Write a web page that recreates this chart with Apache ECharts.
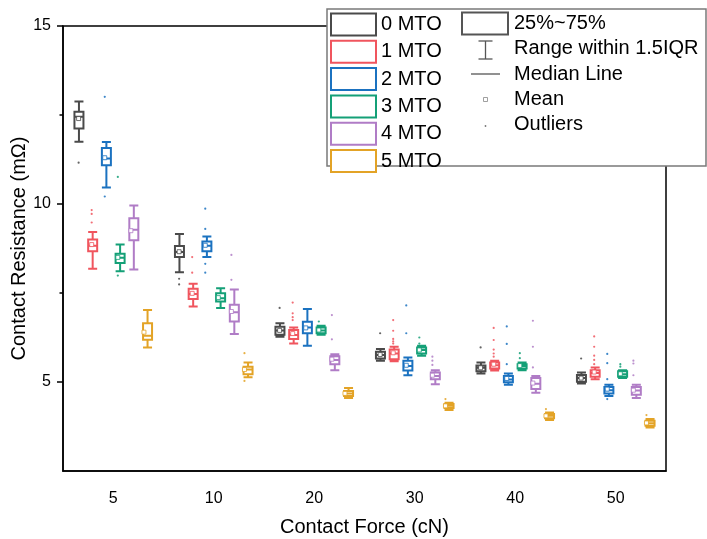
<!DOCTYPE html>
<html><head><meta charset="utf-8">
<script src="https://cdn.jsdelivr.net/npm/echarts@6/dist/echarts.min.js"></script>
<style>html,body{margin:0;padding:0;background:#fff}#c{width:707px;height:539px}</style>
</head><body><div id="c"></div>
<script>
const FONT = 'Liberation Sans, Arial, sans-serif';
const categories = ['5', '10', '20', '30', '40', '50'];
const seriesNames = ['0 MTO', '1 MTO', '2 MTO', '3 MTO', '4 MTO', '5 MTO'];
const colors = ['#4a4a4a', '#F0555E', '#1B72C0', '#14A077', '#B07CC6', '#E3A326'];

// [min, Q1, median, Q3, max] for each contact force
const box0 = [[11.75, 12.12, 12.45, 12.59, 12.88], [8.08, 8.51, 8.65, 8.82, 9.16], [6.27, 6.33, 6.45, 6.55, 6.65], [5.60, 5.66, 5.76, 5.85, 5.93], [5.24, 5.30, 5.40, 5.46, 5.55], [4.96, 5.01, 5.11, 5.20, 5.27]];
const box1 = [[8.18, 8.67, 8.83, 9.00, 9.21], [7.12, 7.33, 7.47, 7.62, 7.76], [6.08, 6.21, 6.32, 6.46, 6.53], [5.58, 5.64, 5.80, 5.91, 5.99], [5.32, 5.38, 5.47, 5.55, 5.60], [5.08, 5.15, 5.25, 5.33, 5.41]];
const box2 = [[10.46, 11.09, 11.28, 11.57, 11.74], [8.51, 8.67, 8.83, 8.95, 9.09], [6.02, 6.37, 6.53, 6.69, 7.05], [5.19, 5.32, 5.45, 5.60, 5.69], [4.92, 4.99, 5.07, 5.17, 5.24], [4.61, 4.68, 4.77, 4.86, 4.92]];
const box3 = [[8.11, 8.34, 8.49, 8.60, 8.86], [7.08, 7.26, 7.35, 7.49, 7.63], [6.33, 6.37, 6.45, 6.53, 6.58], [5.74, 5.80, 5.90, 5.97, 6.02], [5.33, 5.38, 5.45, 5.50, 5.55], [5.11, 5.15, 5.22, 5.30, 5.33]];
const box4 = [[8.16, 8.98, 9.28, 9.60, 9.96], [6.35, 6.70, 6.96, 7.17, 7.60], [5.33, 5.50, 5.62, 5.72, 5.78], [4.94, 5.08, 5.17, 5.27, 5.33], [4.70, 4.80, 4.95, 5.11, 5.17], [4.55, 4.64, 4.76, 4.86, 4.92]];
const box5 = [[5.97, 6.19, 6.30, 6.65, 7.02], [5.13, 5.22, 5.35, 5.43, 5.55], [4.55, 4.61, 4.68, 4.75, 4.83], [4.21, 4.27, 4.33, 4.38, 4.42], [3.93, 3.98, 4.05, 4.10, 4.14], [3.72, 3.77, 3.84, 3.91, 3.96]];

const mean0 = [12.40, 8.66, 6.45, 5.77, 5.40, 5.11];
const mean1 = [8.86, 7.49, 6.36, 5.82, 5.50, 5.28];
const mean2 = [11.30, 8.84, 6.52, 5.47, 5.10, 4.80];
const mean3 = [8.50, 7.37, 6.46, 5.90, 5.46, 5.23];
const mean4 = [9.25, 6.98, 5.64, 5.19, 4.97, 4.77];
const mean5 = [6.40, 5.35, 4.68, 4.33, 4.05, 3.85];

// outliers: [force index, value]
const out0 = [[0, 11.16], [1, 7.90], [1, 7.74], [2, 7.08], [3, 6.37], [4, 5.97], [5, 5.66]];
const out1 = [[0, 9.83], [0, 9.72], [0, 9.48], [1, 8.51], [1, 8.07], [2, 7.23], [2, 6.93], [2, 6.82], [2, 6.74], [3, 6.74], [3, 6.44], [3, 6.21], [3, 6.14], [3, 6.08], [4, 6.52], [4, 6.18], [4, 5.91], [4, 5.80], [4, 5.71], [5, 6.28], [5, 5.99], [5, 5.74], [5, 5.62], [5, 5.50]];
const out2 = [[0, 13.01], [0, 10.21], [1, 9.87], [1, 9.30], [1, 8.32], [1, 8.07], [3, 7.15], [3, 6.37], [4, 6.56], [4, 6.07], [4, 5.50], [5, 5.79], [5, 5.53], [5, 5.08], [5, 4.52]];
const out3 = [[0, 10.76], [0, 7.99], [2, 6.70], [3, 6.25], [3, 6.08], [4, 5.81], [4, 5.67], [5, 5.50], [5, 5.43]];
const out4 = [[1, 8.57], [1, 7.87], [2, 6.88], [2, 6.20], [3, 5.71], [3, 5.60], [3, 5.48], [4, 6.72], [4, 5.99], [4, 5.41], [5, 5.60], [5, 5.52], [5, 5.19]];
const out5 = [[1, 5.81], [1, 5.03], [3, 4.52], [4, 4.24], [5, 4.07]];

const yMin = 2.5, yMax = 15;
const yTicks = [5, 10, 15];
const yMinorTicks = [7.5, 12.5];

const boxes = [box0, box1, box2, box3, box4, box5];
const means = [mean0, mean1, mean2, mean3, mean4, mean5];
const outs = [out0, out1, out2, out3, out4, out5];
const N = seriesNames.length;

// replicate ECharts boxplot side-by-side layout offset
function offsetFor(s, band) {
  const avail = band * 0.8 - 2;
  const gap = avail / N * 0.3;
  const w = avail / N - gap;
  return w / 2 - avail / 2 + s * (gap + w);
}

const series = [];
for (let s = 0; s < N; s++) {
  series.push({
    name: seriesNames[s], type: 'boxplot', data: boxes[s], boxWidth: [9, 9],
    itemStyle: { color: '#fff', borderColor: colors[s], borderWidth: 2 },
    emphasis: { disabled: true }, z: 3
  });
}
for (let s = 0; s < N; s++) {
  series.push({
    name: seriesNames[s], type: 'custom', z: 4, silent: true,
    data: outs[s],
    renderItem: function (params, api) {
      const c = api.coord([api.value(0), api.value(1)]);
      const band = api.size([1, 0])[0];
      return { type: 'circle', shape: { cx: c[0] + offsetFor(s, band), cy: c[1], r: 1.1 },
               style: { fill: colors[s], opacity: 0.85 } };
    }
  });
  series.push({
    name: seriesNames[s], type: 'custom', z: 5, silent: true,
    data: means[s].map((v, i) => [i, v]),
    renderItem: function (params, api) {
      const c = api.coord([api.value(0), api.value(1)]);
      const band = api.size([1, 0])[0];
      const x = c[0] + offsetFor(s, band);
      return { type: 'rect', shape: { x: x - 2, y: c[1] - 2, width: 4, height: 4 },
               style: { fill: '#fff', stroke: colors[s], lineWidth: 0.8 } };
    }
  });
}

const keyX = 485.5, keyText = 514;
const rowY = [23.5, 48.8, 74.1, 99.4, 124.7];
const keyLabels = ['25%~75%', 'Range within 1.5IQR', 'Median Line', 'Mean', 'Outliers'];
const graphic = [
  { type: 'rect', z: 15, shape: { x: 327, y: 9, width: 379, height: 157 }, style: { fill: '#fff', stroke: '#7a7a7a', lineWidth: 1.5 } },
  { type: 'rect', z: 20, shape: { x: 462, y: 12.5, width: 46, height: 22 }, style: { fill: '#fff', stroke: '#555', lineWidth: 2 } },
  { type: 'line', z: 20, shape: { x1: keyX, y1: 41, x2: keyX, y2: 59 }, style: { stroke: '#555', lineWidth: 1.3 } },
  { type: 'line', z: 20, shape: { x1: 478.5, y1: 41, x2: 492.5, y2: 41 }, style: { stroke: '#555', lineWidth: 1.3 } },
  { type: 'line', z: 20, shape: { x1: 478.5, y1: 59, x2: 492.5, y2: 59 }, style: { stroke: '#555', lineWidth: 1.3 } },
  { type: 'line', z: 20, shape: { x1: 471, y1: 74, x2: 500, y2: 74 }, style: { stroke: '#555', lineWidth: 1.3 } },
  { type: 'rect', z: 20, shape: { x: keyX - 2, y: 97.5, width: 4, height: 4 }, style: { fill: '#fff', stroke: '#888', lineWidth: 0.8 } },
  { type: 'circle', z: 20, shape: { cx: keyX, cy: 126, r: 0.9 }, style: { fill: '#777' } }
];
keyLabels.forEach((t, i) => graphic.push({
  type: 'text', z: 20, x: keyText, y: rowY[i],
  style: { text: t, fill: '#000', font: '20px ' + FONT, verticalAlign: 'middle', align: 'left' }
}));

const chart = echarts.init(document.getElementById('c'), null, { renderer: 'canvas' });
chart.setOption({
  animation: false,
  backgroundColor: '#fff',
  textStyle: { fontFamily: FONT },
  grid: { left: 63, right: 41, top: 26, bottom: 68, outerBoundsMode: 'none', containLabel: false, show: true, borderColor: '#000', borderWidth: 1.5, backgroundColor: 'transparent' },
  legend: {
    orient: 'vertical', left: 330, top: 12.5, padding: 0,
    itemWidth: 45, itemHeight: 22, itemGap: 3.3, selectedMode: false, z: 20,
    textStyle: { fontSize: 20, color: '#000', fontFamily: FONT },
    data: seriesNames.map((n, i) => ({ name: n, icon: 'rect', itemStyle: { color: '#fff', borderColor: colors[i], borderWidth: 2 } }))
  },
  xAxis: {
    type: 'category', data: categories, boundaryGap: true,
    name: 'Contact Force (cN)', nameLocation: 'middle', nameGap: 46, nameMoveOverlap: false,
    nameTextStyle: { fontSize: 20, color: '#000', fontFamily: FONT },
    axisLine: { lineStyle: { color: '#000', width: 1.5 } },
    axisTick: { alignWithLabel: true, length: 6, lineStyle: { color: '#000', width: 1.5 } },
    axisLabel: { fontSize: 16, color: '#000', margin: 20, fontFamily: FONT },
    splitLine: { show: false }
  },
  yAxis: [{
    type: 'value', min: yMin, max: yMax, position: 'left',
    name: 'Contact Resistance (mΩ)', nameLocation: 'middle', nameGap: 34, nameMoveOverlap: false,
    nameTextStyle: { fontSize: 20, color: '#000', fontFamily: FONT },
    axisLine: { show: true, lineStyle: { color: '#000', width: 1.5 } },
    axisTick: { show: true, length: 6, customValues: yTicks, lineStyle: { color: '#000', width: 1.5 } },
    axisLabel: { fontSize: 16, color: '#000', margin: 12, customValues: yTicks, fontFamily: FONT },
    splitLine: { show: false }
  }, {
    type: 'value', min: yMin, max: yMax, position: 'left', offset: 0,
    axisLine: { show: false },
    axisTick: { show: true, length: 3.5, customValues: yMinorTicks, lineStyle: { color: '#000', width: 1.5 } },
    axisLabel: { show: false },
    splitLine: { show: false }
  }],
  series: series,
  graphic: graphic
});
</script></body></html>
